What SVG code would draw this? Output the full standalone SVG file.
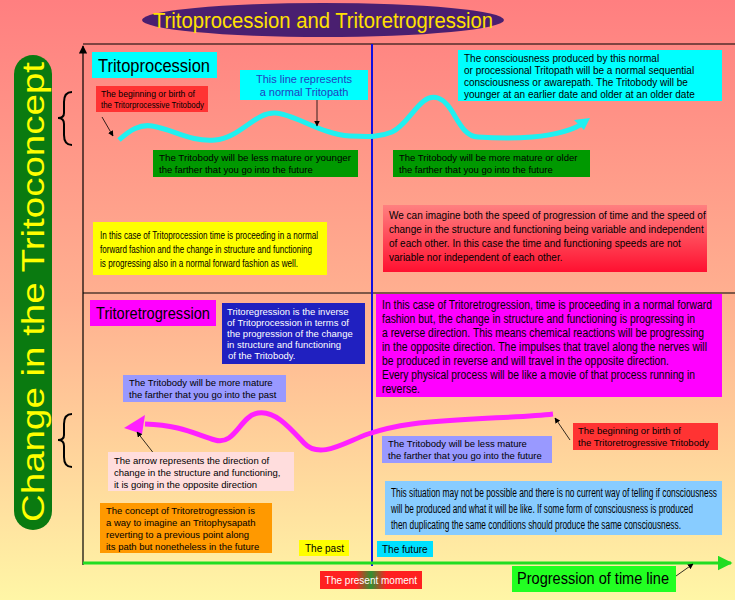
<svg xmlns="http://www.w3.org/2000/svg" width="735" height="600" viewBox="0 0 735 600">
<defs>
<linearGradient id="bg" x1="0" y1="0" x2="0" y2="1"><stop offset="0" stop-color="#ff7f80"/><stop offset="0.5" stop-color="#ffb090"/><stop offset="1" stop-color="#fff6a6"/></linearGradient>
<linearGradient id="redg" x1="0" y1="0" x2="0" y2="1"><stop offset="0" stop-color="#ff8080"/><stop offset="1" stop-color="#ff1030"/></linearGradient>
<linearGradient id="pm" x1="0" y1="0" x2="1" y2="0"><stop offset="0" stop-color="#ff2020"/><stop offset="0.35" stop-color="#ff2020"/><stop offset="0.5" stop-color="#309030"/><stop offset="0.65" stop-color="#ff2020"/><stop offset="1" stop-color="#ff2020"/></linearGradient>
<marker id="ah" viewBox="0 0 10 10" refX="9" refY="5" markerWidth="7" markerHeight="7" orient="auto-start-reverse"><path d="M0,0 L10,5 L0,10 z" fill="#000"/></marker>
<marker id="ahg" viewBox="0 0 10 10" refX="9" refY="5" markerWidth="5" markerHeight="5" orient="auto"><path d="M0,0 L10,5 L0,10 z" fill="#22dd22"/></marker>
</defs>
<style>
text{font-family:"Liberation Sans",Arial,sans-serif;font-size:10px;fill:#000}
.w{fill:#fff}
.cb{font-size:9.5px}
.big{font-size:12px}
.thin{stroke:#000;stroke-width:0.8;fill:none}
</style>
<rect width="735" height="600" fill="url(#bg)"/>
<g id="frame">
<line x1="83" y1="44" x2="735" y2="44" stroke="#000" stroke-width="1.2"/>
<line x1="83" y1="293" x2="735" y2="293" stroke="#000" stroke-width="1.2"/>
<line x1="83" y1="565" x2="83" y2="46" stroke="#000" stroke-width="1.2" marker-end="url(#ah)"/>
<line x1="372" y1="44" x2="372" y2="566" stroke="#1010e0" stroke-width="2"/>
<line x1="83" y1="563" x2="731" y2="563" stroke="#22dd22" stroke-width="3" marker-end="url(#ahg)"/>
</g>
<g id="title">
<ellipse cx="323" cy="20" rx="181" ry="17" fill="#4a1f70"/>
<text x="323" y="28" text-anchor="middle" textLength="340" lengthAdjust="spacingAndGlyphs" style="font-size:22px;fill:#ffe000">Tritoprocession and Tritoretrogression</text>
</g>
<g id="yaxis-label">
<rect x="14" y="55" width="38" height="475" rx="19" fill="#0a7a10"/>
<text transform="translate(44,292) rotate(-90)" text-anchor="middle" textLength="460" lengthAdjust="spacingAndGlyphs" style="font-size:31px;fill:#ffff00">Change in the Tritoconcept</text>
</g>
<g id="braces" fill="none" stroke="#000" stroke-width="2">
<path d="M72,92 Q64,92 64,102 L64,113 Q64,118 58,118 Q64,118 64,124 L64,135 Q64,145 72,145"/>
<path d="M72,414 Q64,414 64,424 L64,435 Q64,440 58,440 Q64,440 64,446 L64,457 Q64,467 72,467"/>
</g>
<g id="connectors">
<path d="M119,140 C130,130 140,124 152,126 C175,130 190,142 215,140 C240,138 255,112 275,113 C295,114 320,134 350,136 C370,137 380,137 392,132 C410,124 420,92 438,98 C455,104 458,136 478,137 C505,139 560,140 585,122" fill="none" stroke="#20f0f0" stroke-width="5"/>
<path d="M590,118 L574,120 L584,130 z" fill="#20f0f0"/>
<path d="M553,414 C520,418 460,418 412,424 C390,427 380,430 368,434 C345,442 320,460 304,443 C290,428 275,410 258,413 C240,416 235,446 215,440 C195,434 180,425 145,424" fill="none" stroke="#ff20ff" stroke-width="5"/>
<path d="M124,428 L145,415 L142,434 z" fill="#ff20ff"/>
<line x1="102" y1="117" x2="113" y2="136" class="thin" marker-end="url(#ah)"/>
<line x1="317" y1="100" x2="317" y2="126" class="thin" marker-end="url(#ah)"/>
<line x1="570" y1="440" x2="555" y2="418" class="thin" marker-end="url(#ah)"/>
<line x1="155" y1="455" x2="137" y2="432" class="thin" marker-end="url(#ah)"/>
<line x1="676" y1="576" x2="693" y2="564" class="thin" marker-end="url(#ah)"/>
</g>
<g id="tritoprocession"><rect x="92" y="52" width="125" height="26" fill="#00ffff"/><text x="98" y="72" textLength="112" lengthAdjust="spacingAndGlyphs" style="font-size:18px">Tritoprocession</text></g>
<g id="birth1"><rect x="96" y="86" width="112" height="26" fill="#ff3333"/><text class="cb" x="101" y="97" textLength="94" lengthAdjust="spacingAndGlyphs">The beginning or birth of</text><text class="cb" x="101" y="108" textLength="103" lengthAdjust="spacingAndGlyphs">the Tritorprocessive Tritobody</text></g>
<g id="normal-line"><rect x="240" y="70" width="128" height="30" fill="#00ffff"/><text x="304" y="83" text-anchor="middle" style="font-size:11px;fill:#2040c0">This line represents</text><text x="304" y="96" text-anchor="middle" style="font-size:11px;fill:#2040c0">a normal Tritopath</text></g>
<g id="consciousness"><rect x="458" y="50" width="264" height="51" fill="#00ffff"/><text x="464" y="62">The consciousness produced by this normal</text><text x="464" y="74">or processional Tritopath will be a normal sequential</text><text x="464" y="86">consciousness or awarepath. The Tritobody will be</text><text x="464" y="98">younger at an earlier date and older at an older date</text></g>
<g id="less-mature1"><rect x="153" y="150" width="205" height="27" fill="#009900"/><text class="cb" x="159" y="161" textLength="192" lengthAdjust="spacingAndGlyphs">The Tritobody will be less mature or younger</text><text class="cb" x="159" y="173">the farther that you go into the future</text></g>
<g id="more-mature1"><rect x="393" y="150" width="197" height="27" fill="#009900"/><text class="cb" x="399" y="161">The Tritobody will be more mature  or older</text><text class="cb" x="399" y="173">the farther that you go into the future</text></g>
<g id="yellow"><rect x="93" y="222" width="234" height="53" fill="#ffff00"/><text x="100" y="239" textLength="218" lengthAdjust="spacingAndGlyphs">In this case of Tritoprocession time is proceeding in a normal</text><text x="100" y="253" textLength="212" lengthAdjust="spacingAndGlyphs">forward fashion and the change in structure and functioning</text><text x="100" y="267" textLength="198" lengthAdjust="spacingAndGlyphs">is progressing also in a normal forward fashion as well.</text></g>
<g id="speed"><rect x="383" y="205" width="324" height="67" fill="url(#redg)"/><text x="389" y="219">We can imagine both the speed of progression of time and the speed of</text><text x="389" y="233">change in the structure and functioning being variable and independent</text><text x="389" y="247">of each other. In this case the time and functioning speeds are not</text><text x="389" y="261">variable nor independent of each other.</text></g>
<g id="tritoretrogression"><rect x="90" y="300" width="126" height="26" fill="#ff00ff"/><text x="96" y="319" textLength="114" lengthAdjust="spacingAndGlyphs" style="font-size:17px">Tritoretrogression</text></g>
<g id="inverse"><rect x="222" y="303" width="143" height="61" fill="#2020c0"/><text class="w cb" x="227" y="315">Tritoregression is the inverse</text><text class="w cb" x="227" y="326">of Tritoprocession in terms of</text><text class="w cb" x="227" y="337">the progression of the change</text><text class="w cb" x="227" y="348">in structure and functioning</text><text class="w cb" x="228" y="359"> of the Tritobody.</text></g>
<g id="retro-case"><rect x="376" y="294" width="346" height="103" fill="#ff00ff"/><text class="big" x="382" y="309" textLength="330" lengthAdjust="spacingAndGlyphs">In this case of Tritoretrogression, time is proceeding in a normal forward</text><text class="big" x="382" y="323" textLength="313" lengthAdjust="spacingAndGlyphs">fashion but, the change in structure and functioning is progressing in</text><text class="big" x="382" y="337" textLength="322" lengthAdjust="spacingAndGlyphs">a reverse direction. This means chemical reactions will be progressing</text><text class="big" x="382" y="351" textLength="325" lengthAdjust="spacingAndGlyphs">in the opposite direction. The impulses that travel along the nerves will</text><text class="big" x="382" y="365" textLength="287" lengthAdjust="spacingAndGlyphs">be produced in reverse and will travel in the opposite direction.</text><text class="big" x="382" y="379" textLength="313" lengthAdjust="spacingAndGlyphs">Every physical process will be like a movie of that process running in</text><text class="big" x="382" y="393" textLength="38" lengthAdjust="spacingAndGlyphs">reverse.</text></g>
<g id="more-mature2"><rect x="123" y="375" width="163" height="27" fill="#9999ff"/><text class="cb" x="129" y="386">The Tritobody will be more mature</text><text class="cb" x="129" y="398">the farther that you go into the past</text></g>
<g id="birth2"><rect x="573" y="423" width="145" height="27" fill="#ff3333"/><text class="cb" x="578" y="434">The beginning or birth of</text><text class="cb" x="578" y="446">the Tritoretrogressive Tritobody</text></g>
<g id="less-mature2"><rect x="382" y="436" width="170" height="27" fill="#9999ff"/><text class="cb" x="388" y="447">The Tritobody will be less mature</text><text class="cb" x="388" y="459">the farther that you go into the future</text></g>
<g id="arrow-note"><rect x="108" y="452" width="186" height="39" fill="#ffdddd"/><text class="cb" x="114" y="464">The arrow represents the direction of</text><text class="cb" x="114" y="476">change in the structure and functioning,</text><text class="cb" x="114" y="488">it is going in the opposite direction</text></g>
<g id="situation"><rect x="385" y="481" width="337" height="54" fill="#88ccff"/><text class="big" x="391" y="497" textLength="326" lengthAdjust="spacingAndGlyphs">This situation may not be possible and there is no current way of telling if consciousness</text><text class="big" x="391" y="513" textLength="302" lengthAdjust="spacingAndGlyphs">will be produced and what it will be like. If some form of consciousness is produced</text><text class="big" x="391" y="529" textLength="290" lengthAdjust="spacingAndGlyphs">then duplicating the same conditions should produce the same consciousness.</text></g>
<g id="concept"><rect x="100" y="503" width="172" height="50" fill="#ff9900"/><text class="cb" x="106" y="514">The concept of Tritoretrogression is</text><text class="cb" x="106" y="526">a way to imagine an Tritophysapath</text><text class="cb" x="106" y="538">reverting to a previous point along</text><text class="cb" x="106" y="550">its path but nonetheless in the future</text></g>
<g id="past"><rect x="299" y="540" width="50" height="16" fill="#ffff00"/><text x="305" y="552">The past</text></g>
<g id="future"><rect x="377" y="541" width="56" height="16" fill="#00e0ff"/><text x="382" y="553">The future</text></g>
<g id="present"><rect x="320" y="571" width="102" height="18" fill="url(#pm)"/><text class="w" x="371" y="584" text-anchor="middle">The present moment</text></g>
<g id="timeline"><rect x="512" y="566" width="164" height="26" fill="#22ff22"/><text x="517" y="584" textLength="152" lengthAdjust="spacingAndGlyphs" style="font-size:16px">Progression of time line</text></g>
</svg>
